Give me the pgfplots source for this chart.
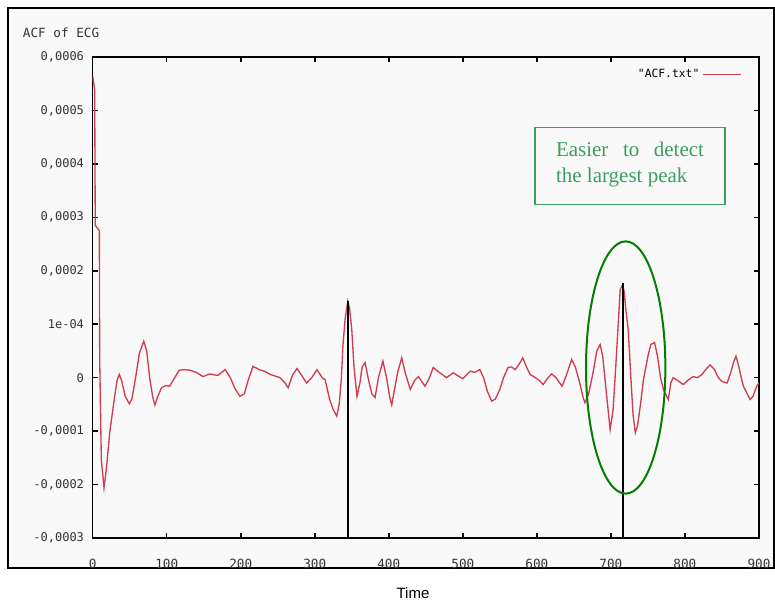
\documentclass[border=0pt]{standalone}
\usepackage{fontspec}
\setmainfont{Liberation Sans}
\newfontfamily\gp{DejaVu Sans Mono}
\newfontfamily\tms{Liberation Serif}
\usepackage{pgfplots}
\pgfplotsset{compat=1.18}
\definecolor{acfred}{RGB}{208,60,80}
\definecolor{boxgreen}{RGB}{58,158,92}
\definecolor{ringgreen}{RGB}{0,128,0}
\definecolor{paper}{RGB}{249,249,249}

% ACF values, y in units of 1e-4
\pgfplotstableread{
t acf
0 5.64
2.7 5.39
3.5 2.85
9 2.75
9.5 0.34
11.7 -1.54
15.3 -2.06
18.4 -1.72
23 -1.03
29.7 -0.35
33 -0.05
36 0.06
39 -0.05
44 -0.35
49.5 -0.49
53 -0.4
58 0.0
63 0.45
69 0.68
73 0.5
77 0.0
81 -0.35
84 -0.51
88 -0.35
93 -0.19
98 -0.15
104 -0.16
110 -0.02
117 0.14
124 0.15
131 0.14
140 0.1
149 0.02
158 0.07
169 0.04
179 0.15
186 0.0
192 -0.2
199 -0.35
205 -0.3
210 -0.05
216.6 0.21
225 0.15
232 0.12
240 0.06
253 0.0
260 -0.1
264 -0.19
270 0.05
276 0.17
282 0.05
289 -0.1
296 0.0
303 0.15
310 0.0
314 -0.04
320 -0.4
325 -0.6
329.7 -0.72
333 -0.5
336 0.0
338 0.59
341 1.1
344.6 1.43
347 1.3
350 0.9
353 0.2
357 -0.35
361 -0.1
364 0.2
368 0.28
372 0.0
377 -0.3
381.5 -0.37
386 0.0
392 0.31
397 0.0
401 -0.35
404 -0.51
408 -0.2
412 0.1
417.5 0.37
422 0.1
429 -0.22
435 -0.05
440 0.02
445 -0.08
449 -0.16
455 0.0
460 0.19
468 0.1
478 0.0
487 0.09
494 0.03
500 -0.02
505 0.05
510 0.12
516 0.1
523 0.15
528 0.0
533 -0.25
539 -0.44
544 -0.4
550 -0.22
555 0.0
561 0.19
566 0.2
570.7 0.15
576 0.25
581 0.37
586 0.2
591 0.06
598 0.0
604 -0.06
608.5 -0.13
614 -0.02
620 0.07
626 0.0
634 -0.16
640 0.05
647 0.34
652 0.2
658 -0.1
662 -0.35
665 -0.47
670 -0.3
676 0.1
681 0.5
685.5 0.62
689 0.4
694 -0.3
699 -0.97
703 -0.6
707 0.3
712.6 1.65
716 1.74
718 1.6
720 1.3
723.4 0.9
727 0.0
730 -0.7
733 -1.03
736 -0.9
740 -0.5
744 -0.04
750 0.4
754 0.62
759 0.66
763 0.4
767 0.0
771 -0.22
777.6 -0.41
781 -0.1
784 0.0
790 -0.05
797.7 -0.13
804 -0.05
811 0.02
817 0.0
823 0.06
828 0.15
834 0.24
840 0.15
845 0.0
850 -0.07
857 -0.1
862 0.1
866 0.3
869 0.4
873 0.2
876 0.0
879 -0.16
884 -0.3
888 -0.41
892 -0.35
897 -0.16
900 -0.1
}\acf

\begin{document}
\begin{tikzpicture}
\path[use as bounding box] (0,0) rectangle (581.25pt,453.75pt);
\draw[fill=paper, line width=1.2pt] (6pt,27.75pt) rectangle (580.5pt,447.75pt);
\begin{axis}[
  at={(69.5pt,50.25pt)}, anchor=south west,
  width=499.7pt, height=360.75pt, scale only axis,
  xmin=0, xmax=900, ymin=-3, ymax=6,
  axis line style={line width=1.2pt},
  tick style={black, line width=1.2pt},
  tick align=inside, major tick length=3.75pt,
  xtick={0,100,...,900},
  xticklabels={0,100,200,300,400,500,600,700,800,900},
  ytick={-3,-2,...,6},
  yticklabels={{-0,0003},{-0,0002},{-0,0001},{0},{1e-04},{0,0002},{0,0003},{0,0004},{0,0005},{0,0006}},
  xticklabel style={font=\gp\fontsize{9.5}{10}\selectfont, text=black!80, yshift=-12pt},
  yticklabel style={font=\gp\fontsize{9}{10}\selectfont, text=black!80, xshift=-3pt},
  legend style={draw=none, fill=none, at={(1,1)}, anchor=north east,
    xshift=-10pt, yshift=-5pt, font=\gp\fontsize{8.5}{10}\selectfont},
  legend plot pos=right,
  legend image code/.code={\draw[#1] (0pt,0pt) -- (28.5pt,0pt);},
]
\addplot[acfred, line width=1pt] table[x=t, y=acf] {\acf};
\addlegendentry{"ACF.txt"}
\addplot[black, line width=1.5pt, forget plot] coordinates {(345.4,1.43) (345.4,-3)};
\addplot[black, line width=1.5pt, forget plot] coordinates {(717,1.77) (717,-3)};
\draw[ringgreen, line width=1.5pt] (axis cs:720,0.19) ellipse [x radius=53.6, y radius=2.36];
\end{axis}
\node[anchor=west, inner sep=0pt, font=\gp\fontsize{9.5}{10}\selectfont, text=black!80] at (17pt,429pt) {ACF of ECG};
\node[draw=boxgreen, line width=0.8pt, minimum width=142.5pt, minimum height=57.75pt]
  at (472.5pt,328.9pt) {};
\node[text=boxgreen, text width=111pt, align=justify, inner sep=0pt,
  font=\tms\fontsize{15.75}{19.5}\selectfont] at (472.5pt,330.5pt)
  {Easier to detect\linebreak the largest peak};
\node[font=\fontsize{11.25}{13}\selectfont] at (309.75pt,9pt) {Time};
\end{tikzpicture}
\end{document}
